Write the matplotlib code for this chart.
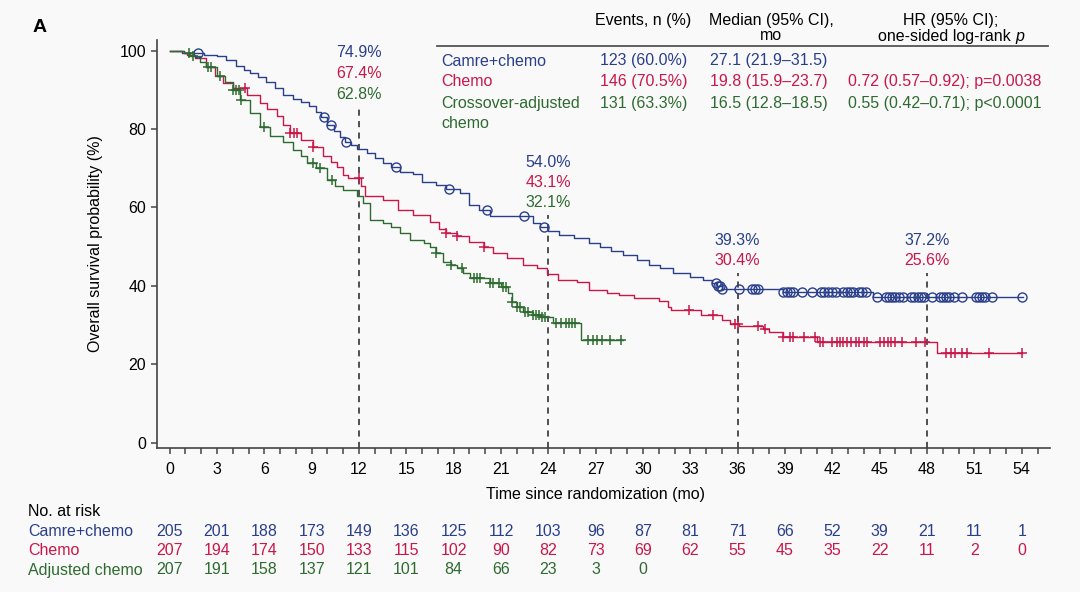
import numpy as np
import matplotlib
matplotlib.use('Agg')
import matplotlib.pyplot as plt
from matplotlib import transforms
from matplotlib.lines import Line2D

plt.rcParams['font.family'] = ['Liberation Sans', 'DejaVu Sans']

BLUE = '#2A3F8C'
RED = '#C8184A'
GREEN = '#2E6B30'
BG = '#F9F9F9'
NARROW = ['Liberation Sans Narrow', 'Liberation Sans']

# --- KM curves (step after time) ---
camre_t = [0, 0.8, 2.2, 3.0, 3.6, 4.2, 4.7, 5.1, 5.6, 6.1, 6.7, 7.2, 7.8, 8.3, 8.8, 9.3, 9.6,
           10.0, 10.4, 10.8, 11.1, 11.5, 11.9, 12.5, 13.0, 13.5, 14.0, 14.6, 15.4, 16.0, 16.9,
           17.5, 18.4, 19.0, 19.6, 20.3, 23.0, 23.5, 24.0, 24.7, 25.6, 26.6, 27.3, 28.0, 28.75,
           29.6, 30.4, 31.07, 31.9, 32.97, 33.8, 34.35, 34.7, 35.0, 38.9, 44.6, 54.1]
camre_s = [100, 99.5, 99.0, 98.5, 97.5, 96.0, 95.0, 94.2, 93.2, 92.1, 90.5, 88.7, 87.7, 87.0,
           85.8, 84.4, 83.0, 81.0, 79.5, 78.0, 76.8, 76.0, 74.9, 74.0, 72.5, 71.3, 70.3, 69.0,
           68.5, 66.6, 65.7, 64.8, 63.6, 60.6, 59.4, 57.7, 56.0, 55.1, 54.0, 53.0, 52.2, 50.9,
           50.0, 49.0, 47.9, 46.6, 45.3, 44.5, 43.2, 42.3, 41.5, 40.7, 39.9, 39.3, 38.5, 37.2, 37.2]
camre_cens = [1.8, 9.78, 10.22, 11.2, 14.34, 17.7, 20.09, 22.47, 23.72, 34.6, 34.75, 34.9, 35.0,
              36.1, 36.9, 37.1, 37.3, 38.9, 39.1, 39.3, 39.5, 40.1, 40.7, 41.3, 41.5, 41.7, 42.0,
              42.2, 42.7, 42.9, 43.1, 43.3, 43.7, 43.9, 44.1, 44.8, 45.4, 45.6, 45.8, 46.0, 46.2,
              46.5, 47.0, 47.2, 47.4, 47.6, 47.8, 48.3, 48.8, 49.0, 49.2, 49.4, 49.7, 50.2, 51.1,
              51.3, 51.5, 51.7, 52.1, 54.0]

chemo_t = [0, 0.9, 1.1, 1.6, 2.3, 2.9, 3.4, 4.0, 4.9, 5.7, 6.2, 6.8, 7.2, 7.6, 8.3, 9.1, 9.7,
           10.2, 10.6, 11.0, 11.3, 12.1, 12.4, 13.5, 14.5, 15.4, 16.5, 17.1, 17.5, 18.2, 19.0,
           19.9, 20.5, 21.35, 22.4, 23.26, 23.9, 24.6, 25.8, 26.6, 27.7, 28.5, 29.4, 31.0, 31.6,
           31.8, 33.7, 35.0, 35.5, 36.1, 37.6, 38.0, 38.9, 41.0, 48.6, 54.0]
chemo_s = [100, 99.5, 98.9, 98.0, 95.9, 93.5, 91.7, 90.4, 88.7, 86.6, 85.0, 83.2, 81.0, 78.9,
           77.2, 75.5, 73.0, 71.5, 70.4, 68.3, 67.4, 65.5, 62.8, 61.9, 59.4, 58.1, 56.4, 54.4,
           53.6, 52.6, 51.3, 50.0, 48.3, 47.0, 45.3, 44.5, 43.1, 41.5, 41.0, 39.0, 38.1, 37.7,
           36.8, 36.2, 34.5, 33.9, 32.6, 31.3, 30.4, 29.8, 28.9, 28.3, 27.0, 25.6, 23.0, 23.0]
chemo_cens = [4.8, 7.6, 7.9, 8.1, 9.1, 12.0, 17.5, 18.2, 19.9, 32.9, 34.45, 35.8, 36.0, 37.3,
              37.7, 38.9, 39.3, 39.5, 40.2, 40.9, 41.2, 41.4, 42.0, 42.3, 42.5, 42.7, 42.9, 43.2,
              43.5, 43.7, 44.0, 44.2, 45.0, 45.3, 45.5, 45.7, 46.0, 46.4, 47.3, 47.9, 49.2, 49.5,
              49.8, 50.2, 50.5, 51.9, 54.0]

adj_t = [0, 0.9, 1.3, 1.9, 2.3, 2.98, 3.5, 4.0, 4.45, 5.1, 5.7, 6.36, 7.2, 7.83, 8.3, 8.7, 9.3,
         9.95, 10.5, 11.0, 11.85, 12.27, 12.7, 13.5, 14.0, 14.6, 15.23, 16.1, 16.5, 16.9, 17.34,
         17.8, 18.2, 18.6, 19.03, 20.3, 21.0, 21.46, 21.67, 21.99, 22.4, 23.0, 23.47, 24.3,
         26.05, 28.7]
adj_s = [100, 99.3, 98.5, 97.0, 95.9, 93.4, 92.0, 90.0, 87.4, 84.0, 80.6, 78.1, 76.8, 74.7,
         73.0, 71.3, 70.0, 67.0, 65.5, 64.5, 62.8, 61.1, 56.8, 56.0, 55.0, 53.4, 51.7, 51.0,
         50.0, 48.3, 46.2, 45.3, 44.5, 43.4, 41.9, 40.7, 39.8, 38.1, 36.0, 34.7, 33.4, 32.6,
         32.1, 30.6, 26.2, 26.2]
adj_cens = [1.2, 1.5, 2.4, 2.6, 3.2, 4.0, 4.2, 4.4, 4.5, 6.0, 9.1, 9.5, 10.3, 16.9, 17.8, 18.5,
            19.3, 19.5, 19.7, 20.3, 20.5, 20.9, 21.1, 21.3, 21.7, 22.0, 22.2, 22.5, 22.7, 23.0,
            23.2, 23.4, 23.6, 23.8, 24.5, 24.8, 25.1, 25.3, 25.5, 25.7, 26.5, 26.8, 27.1, 27.4,
            27.9, 28.6]

# landmark annotations
land_t = [12, 24, 36, 48]
land_top = [85.4, 58.1, 43.2, 43.2]
land_labels = [['74.9%', '67.4%', '62.8%'], ['54.0%', '43.1%', '32.1%'],
               ['39.3%', '30.4%'], ['37.2%', '25.6%']]
land_y = [[99.6, 94.2, 88.9], [71.5, 66.4, 61.2], [51.7, 46.6], [51.7, 46.6]]

# number at risk
risk_times = np.arange(0, 55, 3)
risk_camre = [205, 201, 188, 173, 149, 136, 125, 112, 103, 96, 87, 81, 71, 66, 52, 39, 21, 11, 1]
risk_chemo = [207, 194, 174, 150, 133, 115, 102, 90, 82, 73, 69, 62, 55, 45, 35, 22, 11, 2, 0]
risk_adj = [207, 191, 158, 137, 121, 101, 84, 66, 23, 3, 0]

names = ['Camre+chemo', 'Chemo', 'Crossover-adjusted\nchemo']
events = ['123 (60.0%)', '146 (70.5%)', '131 (63.3%)']
medians = ['27.1 (21.9\u201331.5)', '19.8 (15.9\u201323.7)', '16.5 (12.8\u201318.5)']
hrs = ['', '0.72 (0.57\u20130.92); p=0.0038', '0.55 (0.42\u20130.71); p<0.0001']


def step_at(ts, ss, x):
    idx = np.searchsorted(ts, x, side='right') - 1
    return np.asarray(ss)[idx]


def px(x, y):
    return x / 1080, 1 - y / 592


fig = plt.figure(figsize=(10.8, 5.92), dpi=100, facecolor=BG)
ax = fig.add_axes([0.1451, 0.2432, 0.8271, 0.6892], facecolor=BG)

for ts, ss, cens, col, mk in [(camre_t, camre_s, camre_cens, BLUE, 'o'),
                              (chemo_t, chemo_s, chemo_cens, RED, '+'),
                              (adj_t, adj_s, adj_cens, GREEN, '+')]:
    ax.step(ts, ss, where='post', color=col, lw=1.0, zorder=3)
    cy = step_at(ts, ss, np.array(cens))
    if mk == 'o':
        ax.plot(cens, cy, ls='none', marker='o', ms=6.5, mfc='none', mec=col, mew=1.0, zorder=4)
    else:
        ax.plot(cens, cy, ls='none', marker='+', ms=7, mec=col, mew=1.1, zorder=4)

cols3 = [BLUE, RED, GREEN]
for t, top, labs, ys in zip(land_t, land_top, land_labels, land_y):
    ax.plot([t, t], [-1.35, top], color='#222222', lw=1.1, dashes=(4, 3.5), zorder=2)
    for lab, yy, c in zip(labs, ys, cols3):
        ax.text(t, yy, lab, color=c, fontsize=11.5, ha='center', va='center')

ax.set_xlim(-0.82, 55.79)
ax.set_ylim(-1.35, 102.7)
ax.set_xticks(np.arange(0, 55, 3))
ax.set_xticks(np.arange(0, 56, 1), minor=True)
ax.set_yticks(np.arange(0, 101, 20))
for s in ['top', 'right']:
    ax.spines[s].set_visible(False)
for s in ['left', 'bottom']:
    ax.spines[s].set_color('#444444')
    ax.spines[s].set_linewidth(1.2)
ax.tick_params(axis='x', which='both', direction='out', length=4, width=1.1, color='#444444',
               labelsize=11.5, pad=6)
ax.tick_params(axis='y', direction='out', length=4, width=1.1, color='#444444', labelsize=11.5)
for lab in ax.get_xticklabels():
    lab.set_family(NARROW)

ax.set_ylabel('Overall survival probability (%)', fontsize=11.5, labelpad=12)
fig.text(*px(595, 494), 'Time since randomization (mo)', fontsize=11.5, ha='center',
         va='center', family=NARROW)
fig.text(*px(40, 27), 'A', fontsize=14, fontweight='bold', ha='center', va='center')

# table at top right
fig.text(*px(643, 20.5), 'Events, n (%)', fontsize=11.5, ha='center', va='center')
fig.text(*px(771, 20.5), 'Median (95% CI),', fontsize=11.5, ha='center', va='center')
fig.text(*px(771, 36), 'mo', fontsize=11.5, ha='center', va='center')
fig.text(*px(951, 20.5), 'HR (95% CI);', fontsize=11.5, ha='center', va='center')
fig.text(*px(1011, 36), 'one-sided log-rank', fontsize=11.5, ha='right', va='center')
fig.text(*px(1015, 36), 'p', fontsize=11.5, ha='left', va='center', style='italic')
x0, y0 = px(437, 45.7)
x1, _ = px(1048, 45.7)
fig.add_artist(Line2D([x0, x1], [y0, y0], color='#555555', lw=1.3))
row_y = [61, 81.7, 103.3]
for i in range(3):
    c = cols3[i]
    fig.text(*px(441, row_y[i]), names[i].split('\n')[0], fontsize=11.5, color=c, va='center')
    if '\n' in names[i]:
        fig.text(*px(441, row_y[i] + 20), names[i].split('\n')[1], fontsize=11.5, color=c,
                 va='center')
    fig.text(*px(600, row_y[i]), events[i], fontsize=11.5, color=c, va='center')
    fig.text(*px(710, row_y[i]), medians[i], fontsize=11.5, color=c, va='center')
    fig.text(*px(848, row_y[i]), hrs[i], fontsize=11.5, color=c, va='center')

# number at risk table
trans = transforms.blended_transform_factory(ax.transData, fig.transFigure)
fig.text(*px(28, 512), 'No. at risk', fontsize=11.5, va='center')
risk_rows = [('Camre+chemo', risk_camre, BLUE, 531.7),
             ('Chemo', risk_chemo, RED, 550.5),
             ('Adjusted chemo', risk_adj, GREEN, 570)]
for lab, vals, c, yy in risk_rows:
    fig.text(*px(28, yy), lab, fontsize=11.5, color=c, va='center')
    for t, v in zip(risk_times, vals):
        ax.text(t, 1 - yy / 592, str(v), transform=trans, fontsize=11.5, color=c,
                ha='center', va='center')

fig.savefig('out.png', dpi=100, facecolor=BG)
